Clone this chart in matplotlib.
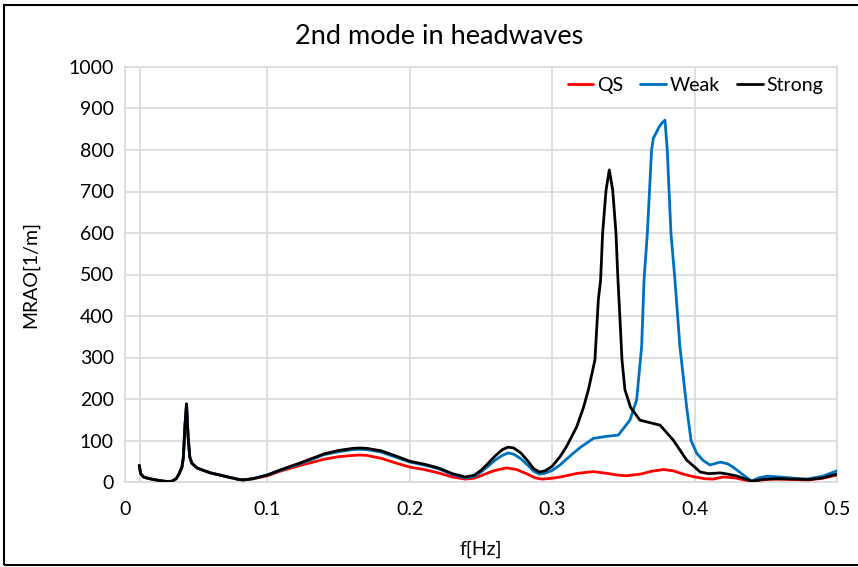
import matplotlib
matplotlib.use("Agg")
import matplotlib.pyplot as plt
from matplotlib.patches import Rectangle

plt.rcParams['font.family'] = ['Lato', 'DejaVu Sans']

# common low-frequency part (all three series lie on top of each other here)
f_low = [0.010, 0.011, 0.013, 0.016, 0.020, 0.025, 0.030, 0.033, 0.036, 0.038,
         0.040, 0.041, 0.042, 0.0432, 0.0443, 0.0455, 0.047, 0.0505, 0.055,
         0.060, 0.070, 0.080, 0.083, 0.090]
v_low = [40, 20, 12, 9, 6, 3, 1, 2, 8, 20,
         36, 60, 130, 188, 110, 60, 45, 34, 28,
         22, 14, 6, 5, 8]

f_qs = f_low + [0.100, 0.109, 0.123, 0.130, 0.140, 0.150, 0.160, 0.165, 0.170,
                0.180, 0.190, 0.200, 0.210, 0.220, 0.230, 0.239, 0.245, 0.250,
                0.255, 0.260, 0.268, 0.275, 0.282, 0.288, 0.293, 0.300, 0.3055,
                0.318, 0.329, 0.338, 0.345, 0.352, 0.362, 0.370, 0.378,
                0.385, 0.392, 0.399, 0.407, 0.413, 0.420, 0.428, 0.435, 0.440,
                0.447, 0.455, 0.470, 0.480, 0.490, 0.500]
qs = v_low + [15, 26, 40, 46, 55, 61, 64, 65, 64,
              57, 46, 36, 30, 22, 12, 7, 9, 15,
              22, 28, 34, 30, 20, 10, 7, 9, 12,
              21, 25, 21, 17, 15, 19, 26, 30,
              27, 19, 13, 8, 7, 12, 10, 5, 2,
              5, 7, 6, 5, 9, 17]

f_weak = f_low + [0.100, 0.109, 0.123, 0.130, 0.140, 0.150, 0.160, 0.165, 0.170,
                  0.180, 0.190, 0.200, 0.210, 0.220, 0.230, 0.239, 0.245, 0.250,
                  0.255, 0.260, 0.265, 0.269, 0.273, 0.278, 0.283, 0.287, 0.291,
                  0.295, 0.300, 0.3055, 0.310, 0.315, 0.320, 0.3289, 0.338, 0.3464,
                  0.3546, 0.3593, 0.3628, 0.3645, 0.3668, 0.3698, 0.371, 0.375,
                  0.377, 0.3792, 0.3808, 0.3834, 0.3862, 0.3897, 0.3944, 0.3975,
                  0.4015, 0.406, 0.4108, 0.418, 0.423, 0.427, 0.433, 0.440,
                  0.445, 0.451, 0.460, 0.470, 0.479, 0.490, 0.500]
weak = v_low + [17, 28, 44, 53, 66, 73, 78, 79, 78,
                72, 60, 48, 41, 32, 18, 10, 13, 24,
                38, 53, 64, 70, 67, 56, 40, 26, 19,
                21, 28, 41, 55, 70, 84, 105, 110, 113,
                149, 198, 326, 487, 599, 800, 828, 855,
                865, 872, 800, 599, 487, 326, 181, 100,
                69, 52, 41, 48, 44, 36, 20, 2,
                10, 14, 12, 9, 7, 14, 27]

f_strong = f_low + [0.100, 0.109, 0.123, 0.130, 0.140, 0.150, 0.160, 0.165, 0.170,
                    0.180, 0.190, 0.200, 0.210, 0.220, 0.230, 0.239, 0.245, 0.250,
                    0.255, 0.260, 0.265, 0.269, 0.273, 0.278, 0.283, 0.287, 0.291,
                    0.295, 0.300, 0.3055, 0.310, 0.3172, 0.322, 0.3254, 0.330,
                    0.3324, 0.334, 0.3354, 0.3378, 0.3401, 0.3425, 0.3448, 0.346,
                    0.3475, 0.349, 0.3511, 0.355, 0.3616, 0.3663, 0.3757, 0.385,
                    0.3944, 0.404, 0.410, 0.418, 0.425, 0.430, 0.440, 0.450,
                    0.460, 0.470, 0.480, 0.490, 0.500]
strong = v_low + [17, 29, 46, 55, 68, 76, 81, 82, 81,
                  75, 63, 50, 43, 34, 20, 12, 16, 28,
                  45, 63, 78, 84, 82, 70, 50, 32, 24,
                  27, 38, 61, 85, 133, 180, 222, 294,
                  439, 487, 599, 703, 752, 703, 599, 500,
                  400, 294, 222, 180, 149, 145, 137, 101,
                  53, 24, 20, 22, 18, 14, 2, 7,
                  8, 7, 6, 10, 19]

x_ticks = [0, 0.1, 0.2, 0.3, 0.4, 0.5]
x_labels = ['0', '0.1', '0.2', '0.3', '0.4', '0.5']
y_ticks = list(range(0, 1001, 100))

fig = plt.figure(figsize=(8.58, 5.67), dpi=100)
ax = fig.add_axes([125/858, 1-482/567, (837-125)/858, (482-67)/567])

grid_c = '#d9d9d9'
line_kw = dict(lw=2, solid_joinstyle='round', solid_capstyle='round')
ax.plot(f_qs, qs, color='#ff0000', label='QS', zorder=3, **line_kw)
ax.plot(f_weak, weak, color='#0070c0', label='Weak', zorder=4, **line_kw)
ax.plot(f_strong, strong, color='#000000', label='Strong', zorder=5, **line_kw)

ax.set_xlim(0, 0.5)
ax.set_ylim(0, 1000)
ax.set_xticks(x_ticks)
ax.set_xticklabels(x_labels)
ax.set_yticks(y_ticks)
ax.grid(True, color=grid_c, lw=1.2)
ax.axvline(0.0105, color=grid_c, lw=1.2, zorder=1)
ax.set_axisbelow(True)
for s in ax.spines.values():
    s.set_color(grid_c)
    s.set_linewidth(1.2)
ax.tick_params(length=0, labelsize=14, colors='#000000', pad=8)
ax.tick_params(axis='x', pad=14)

ax.set_xlabel('f[Hz]', fontsize=14, labelpad=16)
ax.set_ylabel('MRAO[1/m]', fontsize=14, labelpad=21)

fig.text(439/858, 1-37/567, '2nd mode in headwaves', fontsize=19.5,
         ha='center', va='center')

ax.legend(loc='upper right', ncol=3, frameon=False, fontsize=14,
          handlelength=1.3, handletextpad=0.2, columnspacing=0.9,
          bbox_to_anchor=(0.997, 1.005), borderaxespad=0.2)

fig.patches.append(Rectangle((4/858, 1-565/567), 1.0, (565-5)/567,
                             transform=fig.transFigure, fill=False,
                             edgecolor='#000000', lw=1.5))

fig.savefig('out.png', dpi=100)
